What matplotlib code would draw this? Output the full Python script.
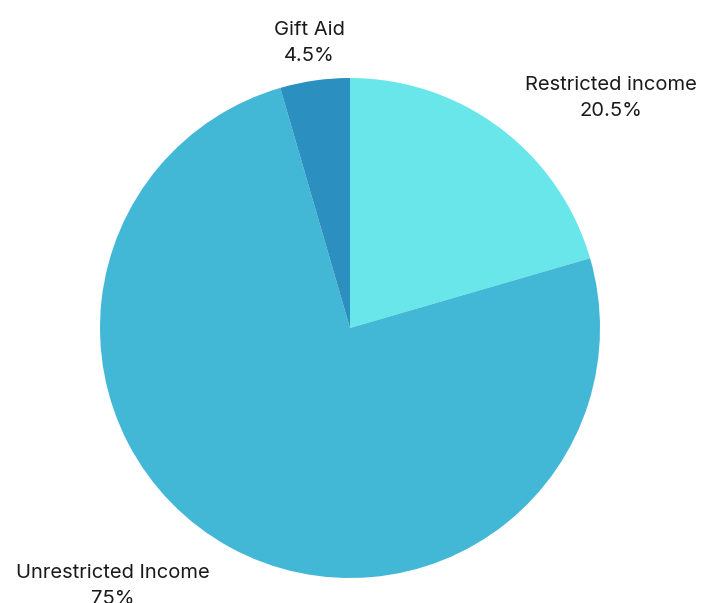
#
# Income breakdown pie chart
#

import numpy as np
import matplotlib.pyplot as plt

labels = ['Restricted income', 'Unrestricted Income', 'Gift Aid']
shares = [20.5, 75, 4.5]
share_text = ['20.5%', '75%', '4.5%']
colors = ['#69e6ea', '#42b7d6', '#2b8fbf']

plt.rcParams['font.family'] = ['Inter', 'DejaVu Sans']

fig = plt.figure(figsize=(7.01, 6.03), dpi=100)
# one data unit = 250 px, pie centre at (350, 328) px
ax = fig.add_axes([0, -75 / 603, 700 / 701, 700 / 603])

wedges, _ = ax.pie(shares, colors=colors, startangle=90, counterclock=False,
                   radius=1.0, wedgeprops=dict(linewidth=0))

# pie() resets the limits, so set them afterwards
ax.set_xlim(-1.4, 1.4)
ax.set_ylim(-1.4, 1.4)
ax.set_aspect('equal')
ax.axis('off')

dist = 1.164
for w, name, pct in zip(wedges, labels, share_text):
    mid = np.deg2rad((w.theta1 + w.theta2) / 2)
    x, y = dist * np.cos(mid), dist * np.sin(mid) - 0.012
    if abs(x) < 0.3:
        ha = 'center'
    elif x > 0:
        ha = 'left'
    else:
        ha = 'right'
    ax.text(x, y, name + '\n' + pct, ha=ha, va='center', ma='center',
            fontsize=14.5, color='#1a1a1a', linespacing=1.6, clip_on=False)

fig.savefig('out.png', dpi=100)
